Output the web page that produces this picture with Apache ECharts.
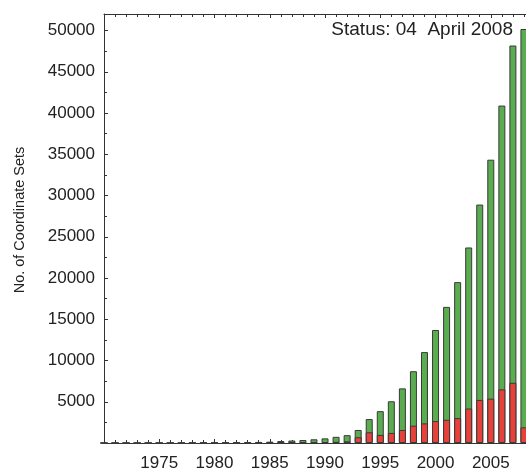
<!DOCTYPE html>
<html>
<head>
<meta charset="utf-8">
<script src="https://cdn.jsdelivr.net/npm/echarts@6/dist/echarts.min.js"></script>
<style>
  html, body { margin: 0; padding: 0; background: #fff; overflow: hidden; }
  #box { width: 538px; height: 472px; }
</style>
</head>
<body>
<div id="box"></div>
<script>
// years 1970 .. 2008
const years = [];
for (let y = 1970; y <= 2008; y++) years.push(y);

// total coordinate sets per year (green)
const totals = [0, 0, 0, 0, 0, 0, 0, 0, 10, 30,
  40, 50, 60, 100, 130, 160, 240, 300, 360, 450,
  560, 750, 950, 1580, 2900, 3860, 5060, 6620, 8700, 11020,
  13700, 16500, 19500, 23700, 28900, 34340, 40900, 48180, 50180];

// subset (red)
const subset = [0, 0, 0, 0, 0, 0, 0, 0, 0, 0,
  0, 0, 10, 20, 20, 30, 40, 50, 60, 80,
  100, 150, 200, 700, 1300, 980, 1220, 1580, 2100, 2380,
  2660, 2820, 3020, 4180, 5220, 5380, 6500, 7300, 1900];

const yTicks = [5000, 10000, 15000, 20000, 25000, 30000, 35000, 40000, 45000, 50000];
const xTicks = [1975, 1980, 1985, 1990, 1995, 2000, 2005];

const font = '"Liberation Sans", Arial, sans-serif';
const ink = '#333';

const graph = echarts.init(document.getElementById('box'));

const axisCommon = {
  type: 'value',
  min: 1970,
  max: 2009,
  interval: 5,
  axisLine: { show: true, lineStyle: { color: ink, width: 1 } },
  axisTick: { show: true, inside: true, length: 4, lineStyle: { color: ink } },
  minorTick: { show: true, splitNumber: 5, length: 3, lineStyle: { color: ink } },
  splitLine: { show: false },
  minorSplitLine: { show: false }
};

graph.setOption({
  animation: false,
  grid: { left: 104, right: 1, top: 14, bottom: 25 },
  graphic: [
    {
      type: 'text',
      right: 25,
      top: 20,
      style: { text: 'Status: 04  April 2008', font: '19px ' + font, fill: '#222' }
    },
    {
      // y axis title
      type: 'text',
      x: 20,
      y: 220,
      rotation: Math.PI / 2,
      style: {
        text: 'No. of Coordinate Sets', font: '14.5px ' + font, fill: '#222',
        align: 'center', verticalAlign: 'middle'
      }
    }
  ],
  xAxis: [
    Object.assign({}, axisCommon, {
      position: 'bottom',
      axisLabel: {
        color: '#222', fontSize: 17, fontFamily: font, margin: 12,
        formatter: v => xTicks.includes(v) ? String(v) : ''
      }
    }),
    Object.assign({}, axisCommon, {
      position: 'top',
      axisLabel: { show: false }
    })
  ],
  yAxis: {
    type: 'value',
    min: 0,
    max: 52000,
    interval: 5000,
    axisLine: { show: true, lineStyle: { color: ink, width: 1 } },
    axisTick: { show: true, inside: true, length: 4, lineStyle: { color: ink } },
    minorTick: { show: true, splitNumber: 2, length: 3, lineStyle: { color: ink } },
    splitLine: { show: false },
    axisLabel: {
      color: '#222', fontSize: 17, fontFamily: font, margin: 9,
      formatter: v => yTicks.includes(v) ? String(v) : ''
    }
  },
  series: [
    {
      name: 'total',
      type: 'bar',
      barWidth: 7,
      barGap: '-100%',
      itemStyle: { color: '#5aad4e', borderColor: '#3a3a3a', borderWidth: 1 },
      data: years.map((y, i) => [y, totals[i]])
    },
    {
      name: 'subset',
      type: 'bar',
      barWidth: 7,
      barGap: '-100%',
      itemStyle: { color: '#e8413a', borderColor: '#3a3a3a', borderWidth: 1 },
      data: years.map((y, i) => [y, subset[i]])
    }
  ]
});
</script>
</body>
</html>
